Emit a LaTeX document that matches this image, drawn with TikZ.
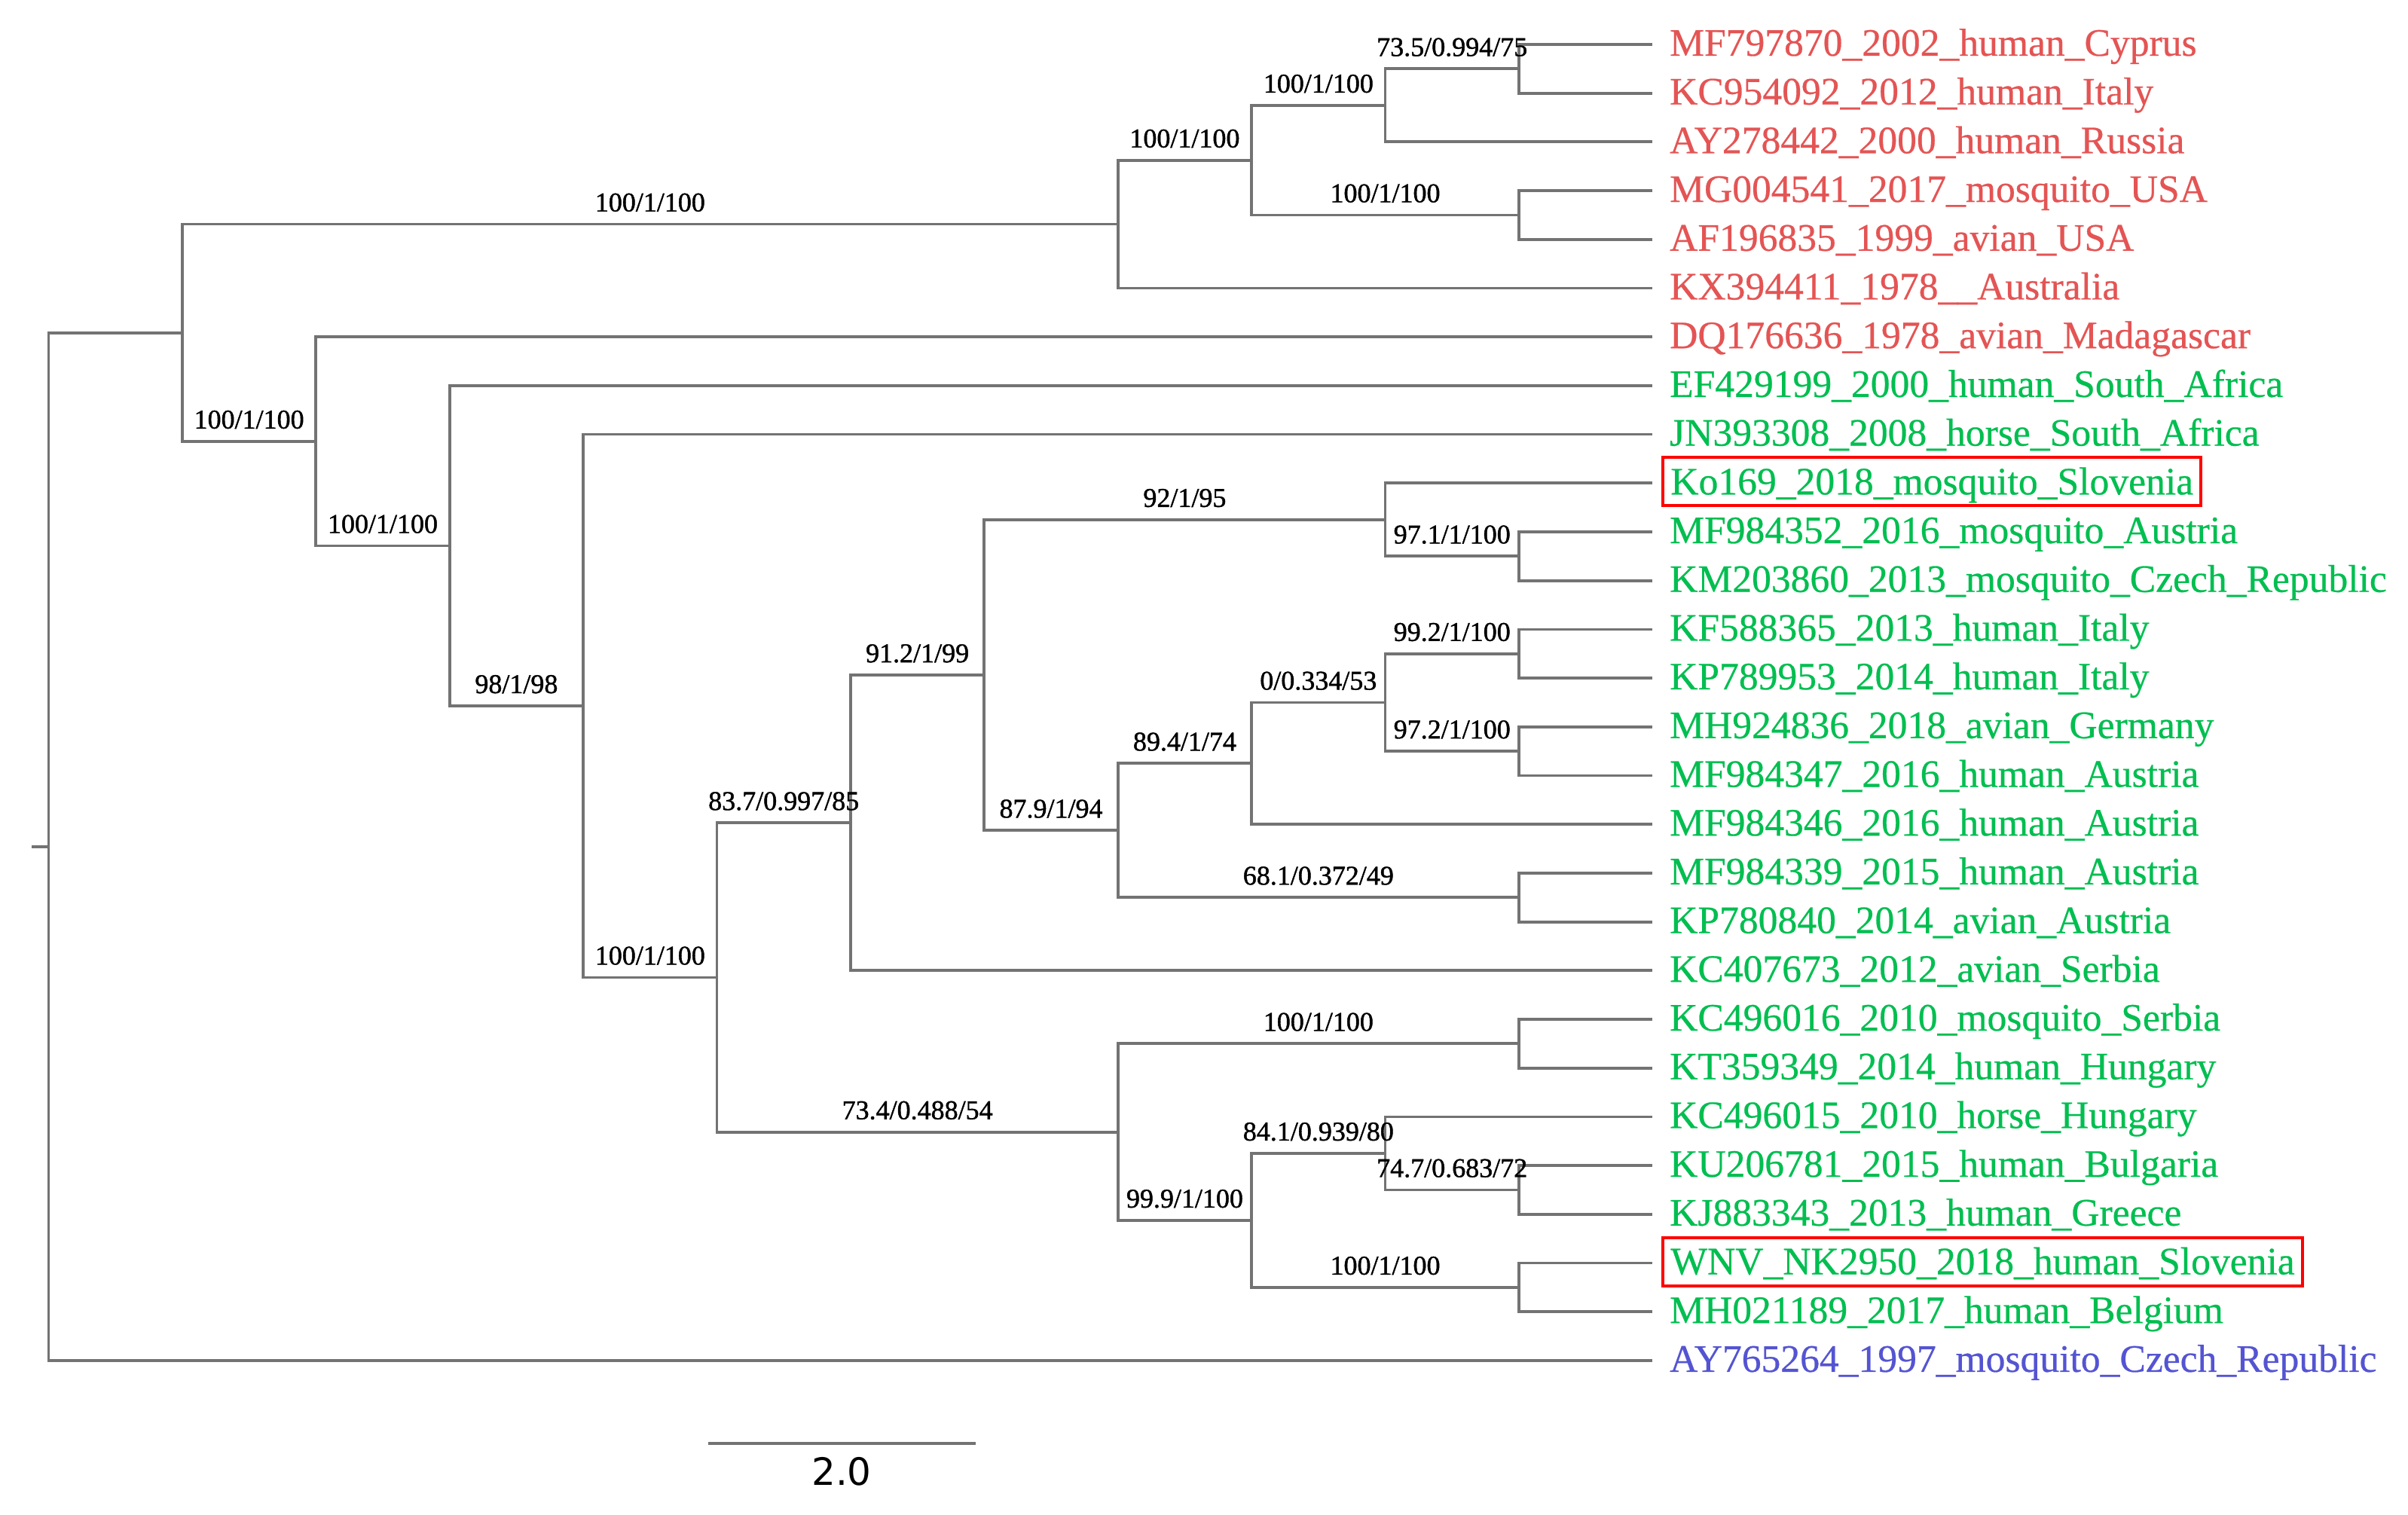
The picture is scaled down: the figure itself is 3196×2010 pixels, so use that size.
\documentclass[tikz,border=0pt]{standalone}
\usepackage{fontspec}
\setmainfont{Liberation Serif}
\newfontfamily\leaffnt[FakeBold=0.5]{Liberation Serif}
\newfontfamily\supfnt[FakeBold=1.2]{Liberation Serif}
\newfontfamily\scalefnt{DejaVu Sans}
\usetikzlibrary{calc}
\definecolor{br}{RGB}{115,115,115}
\definecolor{redlab}{RGB}{228,84,84}
\definecolor{greenlab}{RGB}{0,190,80}
\definecolor{bluelab}{RGB}{84,84,210}
\definecolor{boxred}{RGB}{255,0,0}
\begin{document}
\begin{tikzpicture}[x=0.25pt,y=-0.25pt,
  branch/.style={draw=br, line width=0.95pt},
  leaflab/.style={anchor=base west, inner xsep=2.5pt, inner ysep=0pt,
    text height=12.25pt, text depth=3.75pt, font=\leaffnt\fontsize{12.9}{14}\selectfont},
  nohl/.style={},
  hl/.style={draw=boxred, line width=1pt},
  blab/.style={anchor=base, inner sep=0pt, font=\supfnt\fontsize{9}{10}\selectfont, yshift=4.25pt}
]
\useasboundingbox (0,0) rectangle (3196,2010);

% leaves
\foreach \i/\t/\c/\s in {
  1/MF797870\_2002\_human\_Cyprus/redlab/nohl,
  2/KC954092\_2012\_human\_Italy/redlab/nohl,
  3/AY278442\_2000\_human\_Russia/redlab/nohl,
  4/MG004541\_2017\_mosquito\_USA/redlab/nohl,
  5/AF196835\_1999\_avian\_USA/redlab/nohl,
  6/KX394411\_1978\_\_Australia/redlab/nohl,
  7/DQ176636\_1978\_avian\_Madagascar/redlab/nohl,
  8/EF429199\_2000\_human\_South\_Africa/greenlab/nohl,
  9/JN393308\_2008\_horse\_South\_Africa/greenlab/nohl,
  10/Ko169\_2018\_mosquito\_Slovenia/greenlab/hl,
  11/MF984352\_2016\_mosquito\_Austria/greenlab/nohl,
  12/KM203860\_2013\_mosquito\_Czech\_Republic/greenlab/nohl,
  13/KF588365\_2013\_human\_Italy/greenlab/nohl,
  14/KP789953\_2014\_human\_Italy/greenlab/nohl,
  15/MH924836\_2018\_avian\_Germany/greenlab/nohl,
  16/MF984347\_2016\_human\_Austria/greenlab/nohl,
  17/MF984346\_2016\_human\_Austria/greenlab/nohl,
  18/MF984339\_2015\_human\_Austria/greenlab/nohl,
  19/KP780840\_2014\_avian\_Austria/greenlab/nohl,
  20/KC407673\_2012\_avian\_Serbia/greenlab/nohl,
  21/KC496016\_2010\_mosquito\_Serbia/greenlab/nohl,
  22/KT359349\_2014\_human\_Hungary/greenlab/nohl,
  23/KC496015\_2010\_horse\_Hungary/greenlab/nohl,
  24/KU206781\_2015\_human\_Bulgaria/greenlab/nohl,
  25/KJ883343\_2013\_human\_Greece/greenlab/nohl,
  26/WNV\_NK2950\_2018\_human\_Slovenia/greenlab/hl,
  27/MH021189\_2017\_human\_Belgium/greenlab/nohl,
  28/AY765264\_1997\_mosquito\_Czech\_Republic/bluelab/nohl}{
  \coordinate (l\i) at (2193.3,{59+(\i-1)*64.7});
  \node[leaflab, text=\c, \s] (t\i) at ($(l\i)+(12,15)$) {\t};
}

% internal nodes
\coordinate (root) at (64.5,1123.8);
\coordinate (stub) at (42,1123.8);
\coordinate (A)  at (241.9,441.7);
\coordinate (R)  at (1483.7,297.6);
\coordinate (R1) at (1661.1,212.7);
\coordinate (R2) at (1838.5,139.9);
\coordinate (R3) at (2015.9,285.45);
\coordinate (R4) at (2015.9,91.35);
\coordinate (B)  at (419.3,585.8);
\coordinate (C)  at (596.7,724.45);
\coordinate (D)  at (774.1,937);
\coordinate (E)  at (951.5,1297.4);
\coordinate (F)  at (1128.9,1092.2);
\coordinate (G)  at (1483.7,1502.6);
\coordinate (H)  at (1306.3,896.05);
\coordinate (I)  at (1838.5,689.8);
\coordinate (K)  at (2015.9,738.35);
\coordinate (J)  at (1483.7,1102.3);
\coordinate (M)  at (1661.1,1013.3);
\coordinate (O)  at (1838.5,932.45);
\coordinate (P)  at (2015.9,867.75);
\coordinate (Q)  at (2015.9,997.15);
\coordinate (N)  at (2015.9,1191.25);
\coordinate (S)  at (2015.9,1385.35);
\coordinate (T)  at (1661.1,1619.9);
\coordinate (U)  at (1838.5,1530.9);
\coordinate (W)  at (2015.9,1579.45);
\coordinate (V)  at (2015.9,1708.85);

% branches
\draw[branch] (stub) -- (root);
\foreach \p/\c in {root/A, root/l28,
  A/R, A/B,
  R/R1, R/l6, R1/R2, R1/R3, R2/R4, R2/l3, R4/l1, R4/l2, R3/l4, R3/l5,
  B/l7, B/C, C/l8, C/D, D/l9, D/E,
  E/F, E/G, F/H, F/l20,
  H/I, H/J, I/l10, I/K, K/l11, K/l12,
  J/M, J/N, M/O, M/l17, O/P, O/Q, P/l13, P/l14, Q/l15, Q/l16,
  N/l18, N/l19,
  G/S, G/T, S/l21, S/l22, T/U, T/V, U/l23, U/W, W/l24, W/l25,
  V/l26, V/l27}{
  \draw[branch] (\p) |- (\c);
}

% branch support labels
\foreach \p/\c/\t in {
  A/R/100\slash 1\slash 100,
  R/R1/100\slash 1\slash 100,
  R1/R2/100\slash 1\slash 100,
  R2/R4/73.5\slash 0.994\slash 75,
  R1/R3/100\slash 1\slash 100,
  A/B/100\slash 1\slash 100,
  B/C/100\slash 1\slash 100,
  C/D/98\slash 1\slash 98,
  D/E/100\slash 1\slash 100,
  E/F/83.7\slash 0.997\slash 85,
  E/G/73.4\slash 0.488\slash 54,
  F/H/91.2\slash 1\slash 99,
  H/I/92\slash 1\slash 95,
  I/K/97.1\slash 1\slash 100,
  H/J/87.9\slash 1\slash 94,
  J/M/89.4\slash 1\slash 74,
  M/O/0\slash 0.334\slash 53,
  O/P/99.2\slash 1\slash 100,
  O/Q/97.2\slash 1\slash 100,
  J/N/68.1\slash 0.372\slash 49,
  G/S/100\slash 1\slash 100,
  G/T/99.9\slash 1\slash 100,
  T/U/84.1\slash 0.939\slash 80,
  U/W/74.7\slash 0.683\slash 72,
  T/V/100\slash 1\slash 100}{
  \node[blab] (b\c) at ($(\p |- \c)!0.5!(\c)$) {\t};
}

% scale bar
\coordinate (sbL) at (940,1916);
\coordinate (sbR) at (1295,1916);
\draw[branch] (sbL) -- (sbR);
\node[font=\scalefnt\fontsize{12.5}{14}\selectfont, inner sep=0pt] (sbT) at (1117,1953) {2.0};
\end{tikzpicture}
\end{document}
